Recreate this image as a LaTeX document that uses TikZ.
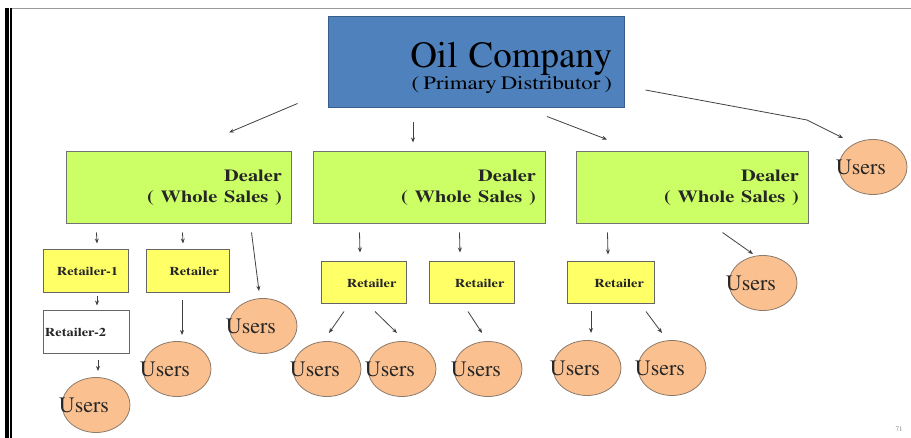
\documentclass[tikz,border=0pt]{standalone}
\usepackage[T1]{fontenc}
\usepackage{times}
\usepackage{graphicx}
\usetikzlibrary{shapes.geometric,arrows.meta,calc}

\definecolor{oilblue}{HTML}{4F81BD}
\definecolor{oilline}{HTML}{385D8A}
\definecolor{dealergreen}{HTML}{CCFF66}
\definecolor{retailyellow}{HTML}{FFFF66}
\definecolor{userorange}{HTML}{FAC090}
\definecolor{userline}{HTML}{8C7B6B}

% slide text is drawn a little wider than the font
\newcommand{\widetext}[1]{\scalebox{1.2}[1]{#1}}

\begin{document}
\begin{tikzpicture}[x=1pt,y=-1pt]

% Box styles
\tikzset{
    oilbox/.style={draw=oilline,fill=oilblue,line width=1pt,
        minimum height=91pt,text width=272pt,inner xsep=12pt,align=right},
    dealerbox/.style={draw=black!55,fill=dealergreen,line width=1pt,
        minimum height=72pt,text width=214pt,inner xsep=9pt,align=right,
        text=black!85,font=\bfseries\fontsize{17}{21}\selectfont},
    retailbox/.style={draw=black!60,fill=retailyellow,line width=1pt,
        minimum height=43pt,text width=65pt,inner xsep=10pt,align=right,
        text=black!85,font=\bfseries\fontsize{12}{14}\selectfont},
    users/.style={ellipse,draw=userline,fill=userorange,line width=0.8pt,
        minimum width=68pt,minimum height=55pt,inner sep=0pt,
        label={[xshift=-12pt,text=black!85,font=\fontsize{22}{24}\selectfont]center:Users}},
    arr/.style={draw=black!75,line width=0.8pt,-{Stealth[length=5pt,width=4pt]}},
}

\useasboundingbox (0,0) rectangle (911,438);

% Slide frame
\fill[black] (5,8) rectangle (9,438);
\fill[black] (10,8) rectangle (12,438);
\draw[black!40,line width=1pt] (12,9) -- (911,9);
\node[text=black!50,font=\fontsize{7}{8}\selectfont] (page) at (899,429) {71};

% Top box
\node[oilbox,text height=36pt,text depth=25pt] (oil) at (476,62.5)
    {{\fontsize{37}{37}\selectfont Oil\hspace{0.3em}Company}\\[0pt]
     {\fontsize{19}{20}\selectfont\widetext{( Primary Distributor )}}};

% Dealers
\node[dealerbox,text width=207pt] (d1) at (178.5,188)
    {\widetext{Dealer}\\\widetext{( Whole Sales )}};
\node[dealerbox] (d2) at (429,188)
    {\widetext{Dealer}\\\widetext{( Whole Sales )}};
\node[dealerbox] (d3) at (692,188)
    {\widetext{Dealer}\\\widetext{( Whole Sales )}};

% Retailers
\node[retailbox] (r11) at (85.5,271.5) {\widetext{Retailer-1}};
\node[retailbox,text width=63pt] (r12) at (187.5,271.5) {\widetext{Retailer}};
\node[retailbox,fill=white,align=left,inner xsep=2pt,text width=82pt] (r13) at (86,332.5) {\widetext{Retailer-2}};
\node[retailbox,minimum height=42pt] (r21) at (364,283) {\widetext{Retailer}};
\node[retailbox,minimum height=42pt] (r22) at (472,283) {\widetext{Retailer}};
\node[retailbox,minimum height=42pt,text width=67pt] (r31) at (610.5,283) {\widetext{Retailer}};

% Users
\node[users] (u0) at (873,167) {};
\node[users] (u11) at (96,405) {};
\node[users] (u12) at (177,369) {};
\node[users] (u13) at (263,326) {};
\node[users] (u21) at (327,369) {};
\node[users] (u22) at (402,369) {};
\node[users] (u23) at (488,369) {};
\node[users] (u31) at (587,368) {};
\node[users] (u32) at (672,368) {};
\node[users] (u33) at (763,283) {};

% Arrows from the oil company
\draw[arr] ($(oil.south west)+(-30,-5)$) -- ($(d1.north)+(50.5,-19)$);
\draw[arr] ($(oil.south)+(-63,14)$) -- ($(d2.north)+(-16,-9)$);
\draw[arr] ($(oil.south)+(71,8)$) -- ($(d3.north)+(-85,-12)$);
\draw[arr] ($(oil.east)+(21,27.5)$) -- ($(u0)+(-66,-47)$) coordinate (bend)
    -- ($(u0)+(-30,-29)$);

% Arrows from dealer 1
\draw[arr] ($(d1.south west)+(31,8)$) -- ($(r11.north)+(11.5,-6)$);
\draw[arr] ($(d1.south west)+(117,8)$) -- ($(r12.north)+(-4.5,-6)$);
\draw[arr] ($(d1.south east)+(-40,8)$) -- ($(u13)+(-4,-35)$);
\draw[arr] ($(r11.south)+(11.5,3)$) -- ($(r13.north)+(11,-5)$);
\draw[arr] ($(r13.south)+(12,6)$) -- ($(u11)+(2,-34)$);
\draw[arr] ($(r12.south)+(-5.5,7)$) -- ($(u12)+(5,-34)$);

% Arrows from dealer 2
\draw[arr] ($(d2.south west)+(47,8)$) -- ($(r21.north)+(-4,-9)$);
\draw[arr] ($(d2.south west)+(147,8)$) -- ($(r22.north)+(-12,-9)$);
\draw[arr] ($(r21.south)+(-20,7)$) -- ($(u21)+(2,-36)$);
\draw[arr] ($(r21.south)+(11,7)$) -- ($(u22)+(-5,-36)$);
\draw[arr] ($(r22.south)+(-4,7)$) -- ($(u23)+(-6,-36)$);

% Arrows from dealer 3
\draw[arr] ($(d3.south west)+(32,8)$) -- ($(r31.north)+(-2.5,-7)$);
\draw[arr] ($(d3.south west)+(147,8)$) -- ($(u33)+(-10,-29)$);
\draw[arr] ($(r31.south)+(-19.5,7)$) -- ($(u31)+(4,-35)$);
\draw[arr] ($(r31.south)+(35.5,7)$) -- ($(u32)+(-10,-35)$);
\end{tikzpicture}
\end{document}
